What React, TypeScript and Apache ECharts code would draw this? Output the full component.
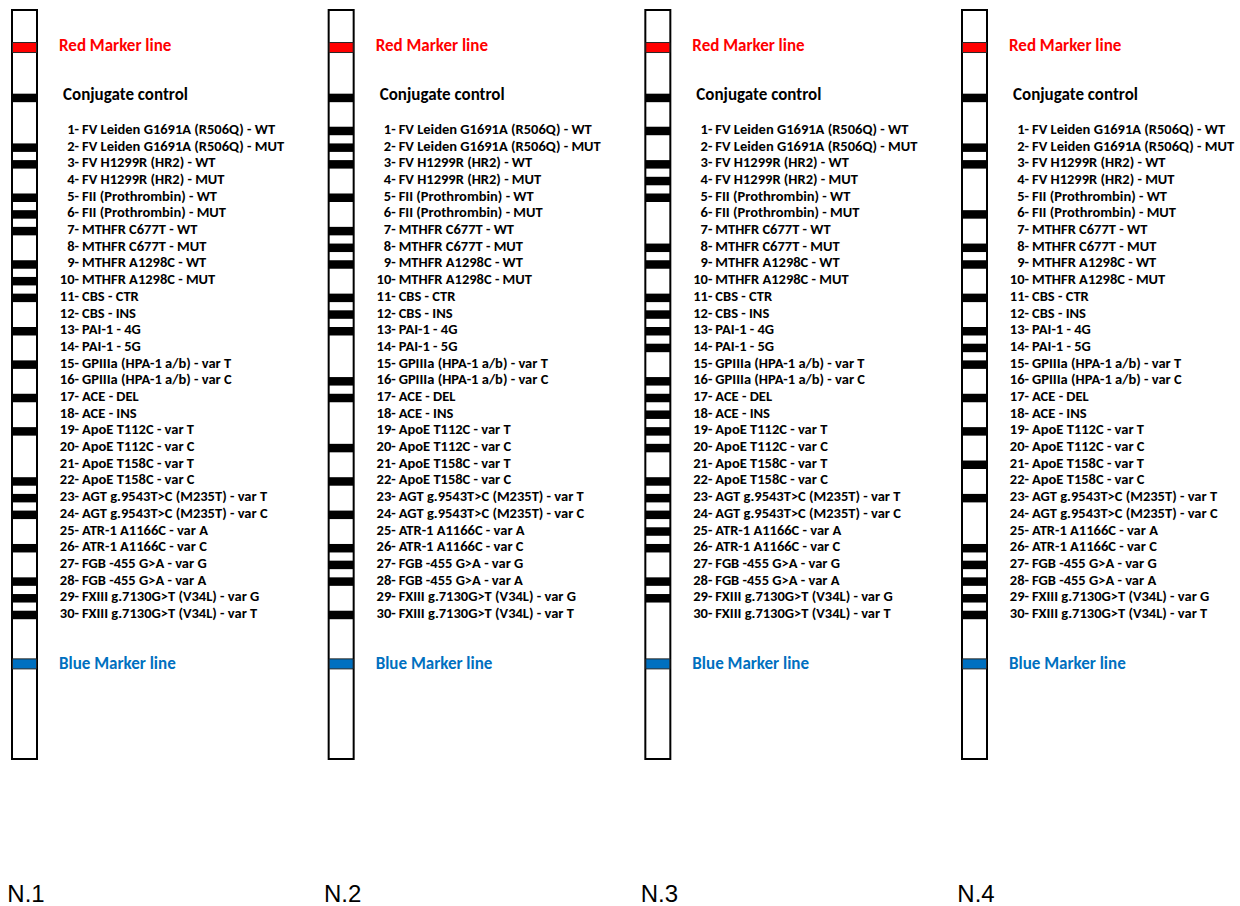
import React, { useEffect, useRef } from "react";
import * as echarts from "echarts";

// ---- data ----
const STRIPS = ["N.1", "N.2", "N.3", "N.4"];

const ANALYTES = [
  "FV Leiden G1691A (R506Q) - WT",
  "FV Leiden G1691A (R506Q) - MUT",
  "FV H1299R (HR2) - WT",
  "FV H1299R (HR2) - MUT",
  "FII (Prothrombin) - WT",
  "FII (Prothrombin) - MUT",
  "MTHFR C677T - WT",
  "MTHFR C677T - MUT",
  "MTHFR A1298C - WT",
  "MTHFR A1298C - MUT",
  "CBS - CTR",
  "CBS - INS",
  "PAI-1 - 4G",
  "PAI-1 - 5G",
  "GPIIIa (HPA-1 a/b) - var T",
  "GPIIIa (HPA-1 a/b) - var C",
  "ACE - DEL",
  "ACE - INS",
  "ApoE T112C - var T",
  "ApoE T112C - var C",
  "ApoE T158C - var T",
  "ApoE T158C - var C",
  "AGT g.9543T>C (M235T) - var T",
  "AGT g.9543T>C (M235T) - var C",
  "ATR-1 A1166C - var A",
  "ATR-1 A1166C - var C",
  "FGB -455 G>A - var G",
  "FGB -455 G>A - var A",
  "FXIII g.7130G>T (V34L) - var G",
  "FXIII g.7130G>T (V34L) - var T",
];

// bands (analyte numbers) visible on each strip
const BANDS_N1 = [2, 3, 5, 6, 7, 9, 10, 11, 13, 15, 17, 19, 22, 23, 24, 26, 28, 29, 30];
const BANDS_N2 = [1, 2, 3, 5, 7, 8, 9, 11, 12, 13, 16, 17, 20, 22, 24, 26, 27, 28, 30];
const BANDS_N3 = [1, 3, 4, 5, 8, 9, 11, 12, 13, 14, 16, 17, 18, 19, 20, 22, 23, 24, 25, 26, 28, 29];
const BANDS_N4 = [2, 3, 6, 8, 9, 11, 13, 14, 15, 17, 19, 21, 23, 26, 27, 28, 29, 30];
const STRIP_BANDS = [BANDS_N1, BANDS_N2, BANDS_N3, BANDS_N4];

// control lines: name, lane position (in analyte-row units), colour
const CONTROL_NAMES = ["Red Marker line", "Conjugate control", "Blue Marker line"];
const CONTROL_ROWS = [-4.0, -0.98, 32.93];
const CONTROL_COLORS = ["#ff0000", "#000000", "#0070c0"];
const CONTROL_TEXT_COLORS = ["#ff0000", "#000000", "#0070c0"];

// strip extent (row units)
const STRIP_TOP = -6.25;
const STRIP_BOTTOM = 38.63;
const STRIP_NAME_ROW = 46.75;

const FONT = "Carlito, Lato, 'Open Sans', sans-serif";

export default function App() {
  const ref = useRef<HTMLDivElement>(null);

  useEffect(() => {
    if (!ref.current) return;
    const chart = echarts.init(ref.current, undefined, { renderer: "svg" });

    const frameData = STRIPS.map((_, i) => [i, STRIP_TOP, STRIP_BOTTOM]);
    const bandData: number[][] = [];
    STRIP_BANDS.forEach((bands, i) => bands.forEach((b) => bandData.push([i, b])));
    const markerData: number[][] = [];
    STRIPS.forEach((_, i) =>
      CONTROL_ROWS.forEach((r, k) => markerData.push([i, r, k]))
    );
    const analyteLabelData: number[][] = [];
    STRIPS.forEach((_, i) =>
      ANALYTES.forEach((_, k) => analyteLabelData.push([i, k + 1, k]))
    );
    const nameData = STRIPS.map((_, i) => [i, STRIP_NAME_ROW, i]);

    const option: any = {
      animation: false,
      backgroundColor: "#ffffff",
      grid: { left: 11, top: 5.8, width: 950, height: 892.9 },
      xAxis: { type: "value", min: 0, max: 3, show: false },
      yAxis: { type: "value", min: -6.5, max: 47, inverse: true, show: false },
      series: [
        {
          type: "custom",
          name: "frame",
          coordinateSystem: "cartesian2d",
          data: frameData,
          renderItem: (_p: any, api: any) => {
            const a = api.coord([api.value(0), api.value(1)]);
            const b = api.coord([api.value(0), api.value(2)]);
            return {
              type: "rect",
              shape: { x: a[0] + 1, y: a[1], width: 25, height: b[1] - a[1] },
              style: { fill: "#ffffff", stroke: "#000000", lineWidth: 2 },
            };
          },
        },
        {
          type: "custom",
          name: "bands",
          coordinateSystem: "cartesian2d",
          data: bandData,
          renderItem: (_p: any, api: any) => {
            const a = api.coord([api.value(0), api.value(1)]);
            return {
              type: "rect",
              shape: { x: a[0] + 1, y: a[1] - 4.25, width: 25, height: 8.5 },
              style: { fill: "#000000" },
            };
          },
        },
        {
          type: "custom",
          name: "controls",
          coordinateSystem: "cartesian2d",
          data: markerData,
          renderItem: (_p: any, api: any) => {
            const a = api.coord([api.value(0), api.value(1)]);
            const k = api.value(2);
            if (k === 1) {
              return {
                type: "rect",
                shape: { x: a[0] + 1, y: a[1] - 4.25, width: 25, height: 8.5 },
                style: { fill: "#000000" },
              };
            }
            return {
              type: "rect",
              shape: { x: a[0] + 1.5, y: a[1] - 5, width: 24, height: 10 },
              style: { fill: CONTROL_COLORS[k], stroke: "#262626", lineWidth: 1 },
            };
          },
        },
        {
          type: "custom",
          name: "controlLabels",
          coordinateSystem: "cartesian2d",
          data: markerData,
          renderItem: (_p: any, api: any) => {
            const a = api.coord([api.value(0), api.value(1)]);
            const k = api.value(2);
            const dx = k === 1 ? 52 : 48;
            const dy = k === 0 ? -2 : k === 1 ? -3 : 0;
            return {
              type: "text",
              x: a[0] + dx,
              y: a[1] + dy,
              style: {
                text: CONTROL_NAMES[k],
                fill: CONTROL_TEXT_COLORS[k],
                fontFamily: FONT,
                fontWeight: "bold",
                fontSize: 17,
                align: "left",
                verticalAlign: "middle",
              },
            };
          },
        },
        {
          type: "custom",
          name: "analyteLabels",
          coordinateSystem: "cartesian2d",
          data: analyteLabelData,
          renderItem: (_p: any, api: any) => {
            const a = api.coord([api.value(0), api.value(1)]);
            const k = api.value(2);
            const common = {
              fill: "#000000",
              fontFamily: FONT,
              fontWeight: "bold",
              fontSize: 14.5,
              verticalAlign: "middle",
            };
            return {
              type: "group",
              children: [
                {
                  type: "text",
                  x: a[0] + 68,
                  y: a[1] - 2,
                  style: { ...common, text: k + 1 + "-", align: "right" },
                },
                {
                  type: "text",
                  x: a[0] + 71,
                  y: a[1] - 2,
                  style: { ...common, text: ANALYTES[k], align: "left" },
                },
              ],
            };
          },
        },
        {
          type: "custom",
          name: "stripNames",
          coordinateSystem: "cartesian2d",
          data: nameData,
          renderItem: (_p: any, api: any) => {
            const a = api.coord([api.value(0), api.value(1)]);
            const k = api.value(2);
            return {
              type: "text",
              x: a[0] + 15,
              y: a[1] + 10.5,
              style: {
                text: STRIPS[k],
                fill: "#000000",
                fontFamily: "'Liberation Sans', Arial, sans-serif",
                fontSize: 24,
                align: "center",
                verticalAlign: "bottom",
              },
            };
          },
        },
      ],
    };

    chart.setOption(option);
    return () => chart.dispose();
  }, []);

  return (
    <div
      ref={ref}
      style={{
        position: "absolute",
        left: 0,
        top: 0,
        width: 1240,
        height: 906,
        background: "#ffffff",
      }}
    />
  );
}
